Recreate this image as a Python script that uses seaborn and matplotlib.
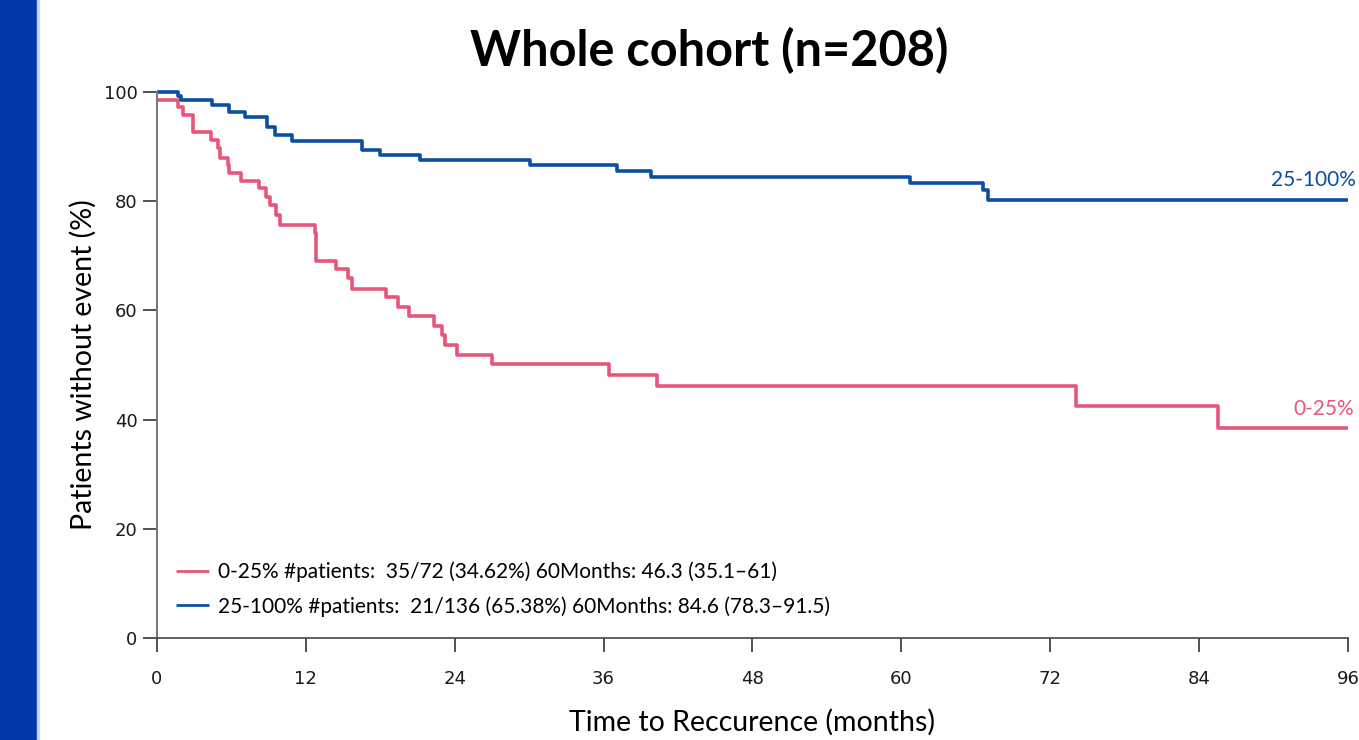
import pandas as pd
import matplotlib
matplotlib.use("Agg")
import matplotlib.pyplot as plt
import seaborn as sns
from matplotlib.patches import Rectangle

# Kaplan-Meier steps (months, % without event)
low_time = [0, 1.7, 2.1, 2.9, 4.35, 4.9, 5.1, 5.7, 5.8, 6.8, 8.2, 8.8, 9.1, 9.6, 9.9,
            12.7, 12.8, 14.4, 15.4, 15.7, 18.5, 19.4, 20.3, 22.3, 23.0, 23.2, 24.2,
            27.0, 36.4, 40.3, 74.1, 85.5, 96]
low_surv = [98.6, 97.3, 95.8, 92.7, 91.2, 89.7, 88.0, 86.6, 85.1, 83.8, 82.4, 80.8, 79.3,
            77.5, 75.6, 74.1, 69.1, 67.5, 65.9, 64.0, 62.4, 60.7, 59.0, 57.1, 55.5, 53.7,
            51.8, 50.2, 48.2, 46.2, 42.5, 38.4, 38.4]

high_time = [0, 1.7, 1.9, 4.4, 5.8, 7.1, 8.9, 9.5, 10.9, 16.5, 18.0, 21.2, 30.1, 37.1,
             39.8, 60.7, 66.6, 67.0, 96]
high_surv = [100, 99.3, 98.5, 97.6, 96.3, 95.4, 93.6, 92.1, 91.1, 89.4, 88.5, 87.5, 86.6,
             85.6, 84.5, 83.4, 82.0, 80.3, 80.3]

groups = ["0-25%", "25-100%"]
colors = ["#E8557A", "#0B4EA2"]
legend_labels = [
    "0-25% #patients:  35/72 (34.62%) 60Months: 46.3 (35.1\u201361)",
    "25-100% #patients:  21/136 (65.38%) 60Months: 84.6 (78.3\u201391.5)",
]
xticks = [0, 12, 24, 36, 48, 60, 72, 84, 96]
yticks = [0, 20, 40, 60, 80, 100]

df = pd.concat([
    pd.DataFrame({"time": low_time, "surv": low_surv, "group": groups[0]}),
    pd.DataFrame({"time": high_time, "surv": high_surv, "group": groups[1]}),
])

sns.set_style("white")
plt.rcParams["font.family"] = ["Lato", "DejaVu Sans"]
plt.rcParams["text.color"] = "black"
plt.rcParams["axes.labelcolor"] = "black"

fig = plt.figure(figsize=(13.59, 7.40), dpi=100)
ax = fig.add_axes([0.1155, 0.1378, 0.8764, 0.7378])

sns.lineplot(data=df, x="time", y="surv", hue="group", palette=colors,
             estimator=None, drawstyle="steps-post", linewidth=2.6, ax=ax,
             legend=False)
for line in ax.lines:
    line.set_clip_on(False)
    line.set_solid_capstyle("butt")

ax.set_xlim(0, 96)
ax.set_ylim(0, 100)
ax.set_xticks(xticks)
ax.set_xticklabels([str(t) for t in xticks], fontfamily="DejaVu Sans", fontsize=13)
ax.set_yticks(yticks)
ax.set_yticklabels([str(t) for t in yticks], fontfamily="DejaVu Sans", fontsize=13)
ax.tick_params(axis="both", direction="out", length=10, width=1.2, color="#333333",
               labelcolor="#1a1a1a", bottom=True, left=True)
ax.tick_params(axis="x", pad=13)
ax.tick_params(axis="y", pad=4)
sns.despine(ax=ax)
ax.spines["left"].set_color("#777777")
ax.spines["bottom"].set_color("#444444")
ax.spines["left"].set_linewidth(1.4)
ax.spines["bottom"].set_linewidth(1.2)

ax.set_xlabel("Time to Reccurence (months)", fontsize=20.5, labelpad=15)
ax.set_ylabel("Patients without event (%)", fontsize=20.5, labelpad=5)

# end-of-curve labels
ax.text(96.6, high_surv[-1] + 1.8, groups[1], color=colors[1], fontsize=15,
        ha="right", va="bottom")
ax.text(96.5, low_surv[-1] + 1.8, groups[0], color=colors[0], fontsize=15,
        ha="right", va="bottom")

handles = ax.lines[:2]
leg = ax.legend(handles, legend_labels, loc="lower left",
                bbox_to_anchor=(0.0, 0.005), frameon=False, fontsize=15,
                handlelength=1.6, handletextpad=0.45, labelspacing=0.65)
for h in leg.legend_handles:
    h.set_linewidth(2)

fig.text(0.522, 0.932, "Whole cohort (n=208)", fontsize=35, fontweight="bold",
         ha="center", va="center")

# blue band on the left edge of the slide
fig.patches.append(Rectangle((0, 0), 37 / 1359, 1, transform=fig.transFigure,
                             color="#0038A8", zorder=0))
fig.patches.append(Rectangle((37 / 1359, 0), 2 / 1359, 1, transform=fig.transFigure,
                             color="#C9D6EE", zorder=0))

fig.savefig("out.png", dpi=100)
